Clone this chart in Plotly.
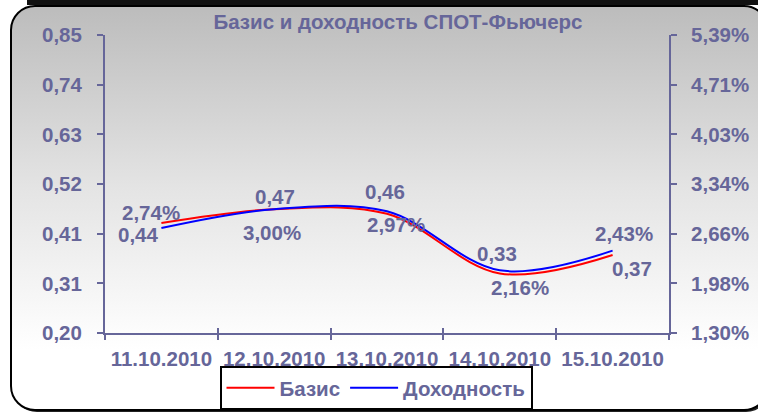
import base64
import numpy as np
import plotly.graph_objects as go

# ---- data ----
dates = ["11.10.2010", "12.10.2010", "13.10.2010", "14.10.2010", "15.10.2010"]
basis = [0.44, 0.47, 0.46, 0.33, 0.37]
yield_pct = [2.74, 3.00, 2.97, 2.16, 2.43]
left_range = [0.20, 0.85]
right_range = [1.30, 5.39]
left_ticktext = ["0,20", "0,31", "0,41", "0,52", "0,63", "0,74", "0,85"]
right_ticktext = ["1,30%", "1,98%", "2,66%", "3,34%", "4,03%", "4,71%", "5,39%"]
title_text = "Базис и доходность СПОТ-Фьючерс"
names = ["Базис", "Доходность"]

W, H = 758, 412
L, R, T, B = 105, 89, 35, 79
PW, PH = W - L - R, H - T - B

TXT = "#666699"
FONT = "Liberation Sans, Arial, sans-serif"
FS = 20.5

# label offsets in pixels (style): (dx, dy up)
basis_shift = [(-23, -11.5), (1, 12.5), (-2.5, 22), (-3, 19.5), (19, -13.5)]
yield_shift = [(-10, 15.5), (-2, -23.5), (9, -13.5), (20, -17), (11.5, 17.5)]

def fmt(v, suffix=""):
    return f"{v:.2f}".replace(".", ",") + suffix

left_tickvals = list(np.linspace(left_range[0], left_range[1], len(left_ticktext)))
right_tickvals = list(np.linspace(right_range[0], right_range[1], len(right_ticktext)))

svg = f'''<svg xmlns="http://www.w3.org/2000/svg" width="{W}" height="{H}" viewBox="0 0 {W} {H}">
<defs><linearGradient id="g" x1="0" y1="0" x2="0" y2="1">
<stop offset="0" stop-color="#bcbcbc"/><stop offset="0.45" stop-color="#e4e4e4"/><stop offset="0.85" stop-color="#ffffff"/></linearGradient></defs>
<rect x="0" y="0" width="{W}" height="{H}" fill="#ffffff"/>
<rect x="27" y="0" width="740" height="5" fill="#111"/>
<rect x="13" y="8" width="757" height="404" rx="24" ry="24" fill="#222"/>
<rect x="11" y="6" width="757" height="404" rx="24" ry="24" fill="url(#g)" stroke="#000" stroke-width="2"/>
</svg>'''
bg_src = "data:image/svg+xml;base64," + base64.b64encode(svg.encode("utf-8")).decode("ascii")

font = dict(family=FONT, size=FS, color=TXT, weight="bold")

fig = go.Figure()
fig.add_trace(go.Scatter(
    x=dates, y=basis, name=names[0], mode="lines",
    line=dict(color="#ff0000", width=2, shape="spline", smoothing=1),
    xaxis="x", yaxis="y", hoverinfo="skip",
))
fig.add_trace(go.Scatter(
    x=dates, y=yield_pct, name=names[1], mode="lines",
    line=dict(color="#0000ff", width=2, shape="spline", smoothing=1),
    xaxis="x2", yaxis="y2", hoverinfo="skip",
))

annotations = []
for d, v, (dx, dy) in zip(dates, basis, basis_shift):
    annotations.append(dict(x=d, y=v, xref="x", yref="y", text=fmt(v), showarrow=False,
                            xshift=dx, yshift=dy, xanchor="center", yanchor="middle", font=font))
for d, v, (dx, dy) in zip(dates, yield_pct, yield_shift):
    annotations.append(dict(x=d, y=v, xref="x2", yref="y2", text=fmt(v, "%"), showarrow=False,
                            xshift=dx, yshift=dy, xanchor="center", yanchor="middle", font=font))

axcommon = dict(showgrid=False, zeroline=False, tickcolor=TXT, tickwidth=2, tickfont=font,
                automargin=False)
cat = dict(type="category", categoryorder="array", categoryarray=dates,
           range=[-0.5, len(dates) - 0.5], tickson="boundaries")

fig.update_layout(
    width=W, height=H,
    margin=dict(l=L, r=R, t=T, b=B, pad=0, autoexpand=False),
    paper_bgcolor="#ffffff", plot_bgcolor="rgba(0,0,0,0)",
    showlegend=True,
    title=dict(text=title_text, x=398 / W, xref="container", xanchor="center",
               y=1 - 22 / H, yref="container", yanchor="middle",
               font=dict(family=FONT, size=FS, color=TXT, weight="bold")),
    xaxis=dict(**axcommon, **cat, ticks="outside", ticklen=5, showline=True,
               linecolor=TXT, linewidth=2, anchor="y", ticklabelstandoff=6),
    xaxis2=dict(**axcommon, **cat, ticks="inside", ticklen=5, showline=False,
                showticklabels=False, overlaying="x", anchor="y2"),
    yaxis=dict(**axcommon, range=left_range, tickvals=left_tickvals, ticktext=left_ticktext,
               ticks="outside", ticklen=6, showline=True, linecolor=TXT, linewidth=2,
               anchor="x", side="left", ticklabelstandoff=11),
    yaxis2=dict(**axcommon, range=right_range, tickvals=right_tickvals, ticktext=right_ticktext,
                ticks="outside", ticklen=6, showline=True, linecolor=TXT, linewidth=2,
                overlaying="y", side="right", anchor="x2", ticklabelstandoff=10),
    yaxis3=dict(**axcommon, range=left_range, tickvals=left_tickvals, ticks="inside", ticklen=5,
                showticklabels=False, showline=False, overlaying="y", side="left", anchor="x"),
    yaxis4=dict(**axcommon, range=right_range, tickvals=right_tickvals, ticks="inside", ticklen=5,
                showticklabels=False, showline=False, overlaying="y", side="right", anchor="x"),
    legend=dict(orientation="h", x=376 / W, xref="container", xanchor="center",
                y=1 - 366 / H, yref="container", yanchor="top",
                bgcolor="#ffffff", bordercolor="#000000", borderwidth=2,
                font=font, itemwidth=48, tracegroupgap=0),
    annotations=annotations,
    images=[dict(source=bg_src, xref="paper", yref="paper",
                 x=-L / PW, y=1 + T / PH, sizex=W / PW, sizey=H / PH,
                 xanchor="left", yanchor="top", sizing="stretch", layer="below")],
)

fig.write_html("out.html", config={"displayModeBar": False},
               post_script="document.body.style.margin='0';document.body.style.overflow='hidden';")
